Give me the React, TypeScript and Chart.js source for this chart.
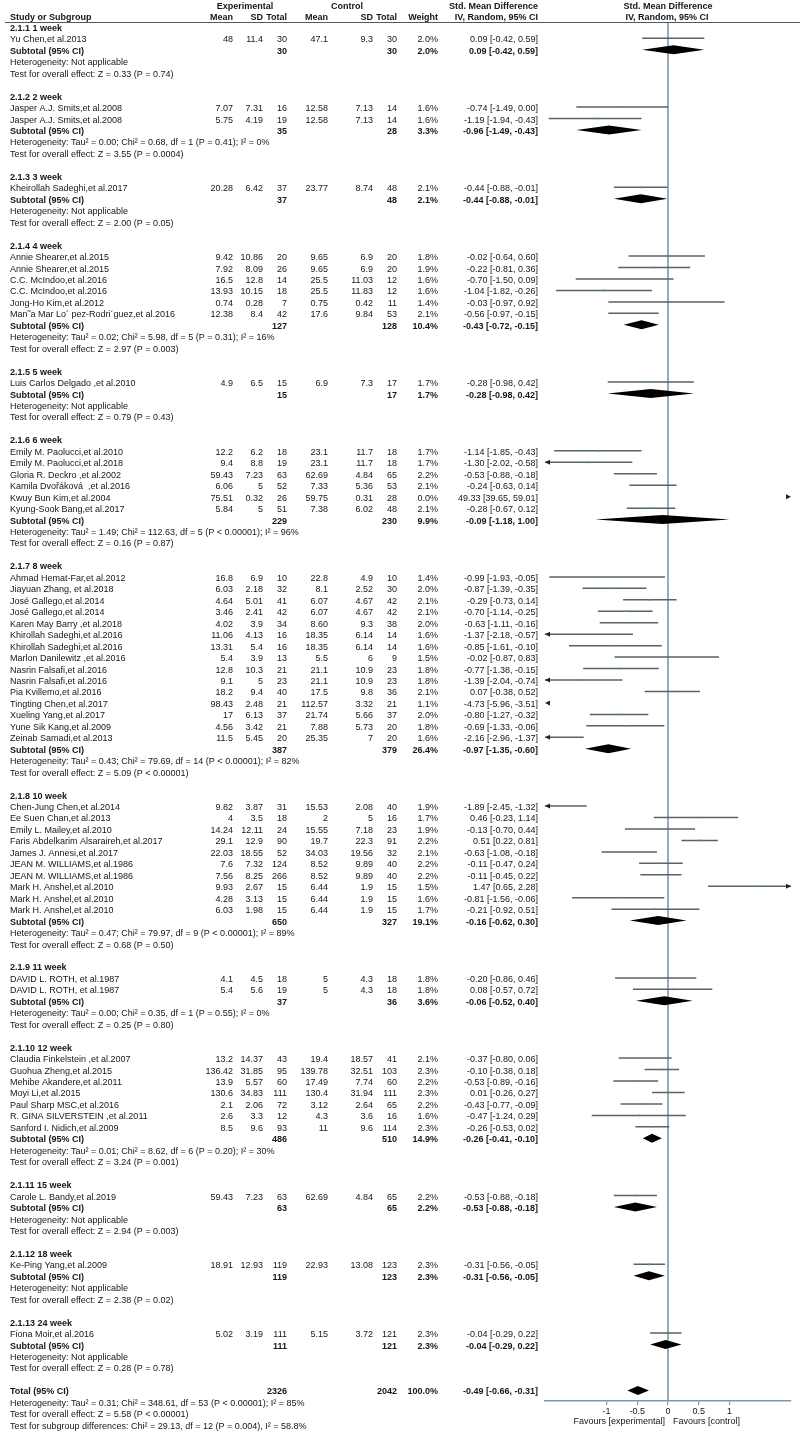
import React, { useEffect, useRef } from "react";
import { Chart, registerables } from "chart.js";

Chart.register(...registerables);

// ---------------- DATA ----------------
const groupTitles = [
  "2.1.1 1 week", "2.1.2 2 week", "2.1.3 3 week", "2.1.4 4 week", "2.1.5 5 week",
  "2.1.6 6 week", "2.1.7 8 week", "2.1.8 10 week", "2.1.9 11 week", "2.1.10 12 week",
  "2.1.11 15 week", "2.1.12 18 week", "2.1.13 24 week",
];
const groupSizes = [1, 2, 1, 6, 1, 6, 15, 10, 2, 7, 1, 1, 1];

const studyNames = [
  "Yu Chen,et al.2013",
  "Jasper A.J. Smits,et al.2008",
  "Jasper A.J. Smits,et al.2008",
  "Kheirollah Sadeghi,et al.2017",
  "Annie Shearer,et al.2015",
  "Annie Shearer,et al.2015",
  "C.C. McIndoo,et al.2016",
  "C.C. McIndoo,et al.2016",
  "Jong-Ho Kim,et al.2012",
  "Man˜a Mar Lo´ pez-Rodri´guez,et al.2016",
  "Luis Carlos Delgado ,et al.2010",
  "Emily M. Paolucci,et al.2010",
  "Emily M. Paolucci,et al.2018",
  "Gloria R. Deckro ,et al.2002",
  "Kamila Dvořáková  ,et al.2016",
  "Kwuy Bun Kim,et al.2004",
  "Kyung-Sook Bang,et al.2017",
  "Ahmad Hemat-Far,et al.2012",
  "Jiayuan Zhang, et al.2018",
  "José Gallego,et al.2014",
  "José Gallego,et al.2014",
  "Karen May Barry ,et al.2018",
  "Khirollah Sadeghi,et al.2016",
  "Khirollah Sadeghi,et al.2016",
  "Marlon Danilewitz ,et al.2016",
  "Nasrin Falsafi,et al.2016",
  "Nasrin Falsafi,et al.2016",
  "Pia Kvillemo,et al.2016",
  "Tingting Chen,et al.2017",
  "Xueling Yang,et al.2017",
  "Yune Sik Kang,et al.2009",
  "Zeinab Samadi,et al.2013",
  "Chen-Jung Chen,et al.2014",
  "Ee Suen Chan,et al.2013",
  "Emily L. Mailey,et al.2010",
  "Faris Abdelkarim Alsaraireh,et al.2017",
  "James J. Annesi,et al.2017",
  "JEAN M. WILLIAMS,et al.1986",
  "JEAN M. WILLIAMS,et al.1986",
  "Mark H. Anshel,et al.2010",
  "Mark H. Anshel,et al.2010",
  "Mark H. Anshel,et al.2010",
  "DAVID L. ROTH, et al.1987",
  "DAVID L. ROTH, et al.1987",
  "Claudia Finkelstein ,et al.2007",
  "Guohua Zheng,et al.2015",
  "Mehibe Akandere,et al.2011",
  "Moyi Li,et al.2015",
  "Paul Sharp MSC,et al.2016",
  "R. GINA SILVERSTEIN ,et al.2011",
  "Sanford I. Nidich,et al.2009",
  "Carole L. Bandy,et al.2019",
  "Ke-Ping Yang,et al.2009",
  "Fiona Moir,et al.2016",
];

const expMean = ["48","7.07","5.75","20.28","9.42","7.92","16.5","13.93","0.74","12.38","4.9","12.2","9.4","59.43","6.06","75.51","5.84","16.8","6.03","4.64","3.46","4.02","11.06","13.31","5.4","12.8","9.1","18.2","98.43","17","4.56","11.5","9.82","4","14.24","29.1","22.03","7.6","7.56","9.93","4.28","6.03","4.1","5.4","13.2","136.42","13.9","130.6","2.1","2.6","8.5","59.43","18.91","5.02"];
const expSD = ["11.4","7.31","4.19","6.42","10.86","8.09","12.8","10.15","0.28","8.4","6.5","6.2","8.8","7.23","5","0.32","5","6.9","2.18","5.01","2.41","3.9","4.13","5.4","3.9","10.3","5","9.4","2.48","6.13","3.42","5.45","3.87","3.5","12.11","12.9","18.55","7.32","8.25","2.67","3.13","1.98","4.5","5.6","14.37","31.85","5.57","34.83","2.06","3.3","9.6","7.23","12.93","3.19"];
const expTotal = [30,16,19,37,20,26,14,18,7,42,15,18,19,63,52,26,51,10,32,41,42,34,16,16,13,21,23,40,21,37,21,20,31,18,24,90,52,124,266,15,15,15,18,19,43,95,60,111,72,12,93,63,119,111];
const ctlMean = ["47.1","12.58","12.58","23.77","9.65","9.65","25.5","25.5","0.75","17.6","6.9","23.1","23.1","62.69","7.33","59.75","7.38","22.8","8.1","6.07","6.07","8.60","18.35","18.35","5.5","21.1","21.1","17.5","112.57","21.74","7.88","25.35","15.53","2","15.55","19.7","34.03","8.52","8.52","6.44","6.44","6.44","5","5","19.4","139.78","17.49","130.4","3.12","4.3","11","62.69","22.93","5.15"];
const ctlSD = ["9.3","7.13","7.13","8.74","6.9","6.9","11.03","11.83","0.42","9.84","7.3","11.7","11.7","4.84","5.36","0.31","6.02","4.9","2.52","4.67","4.67","9.3","6.14","6.14","6","10.9","10.9","9.8","3.32","5.66","5.73","7","2.08","5","7.18","22.3","19.56","9.89","9.89","1.9","1.9","1.9","4.3","4.3","18.57","32.51","7.74","31.94","2.64","3.6","9.6","4.84","13.08","3.72"];
const ctlTotal = [30,14,14,48,20,20,12,12,11,53,17,18,18,65,53,28,48,10,30,42,42,38,14,14,9,23,23,36,21,37,20,20,40,16,23,91,32,40,40,15,15,15,18,18,41,103,60,111,65,16,114,65,123,121];
const studyWeight = [2.0,1.6,1.6,2.1,1.8,1.9,1.6,1.6,1.4,2.1,1.7,1.7,1.7,2.2,2.1,0.0,2.1,1.4,2.0,2.1,2.1,2.0,1.6,1.6,1.5,1.8,1.8,2.1,1.1,2.0,1.8,1.6,1.9,1.7,1.9,2.2,2.1,2.2,2.2,1.5,1.6,1.7,1.8,1.8,2.1,2.3,2.2,2.3,2.2,1.6,2.3,2.2,2.3,2.3];
const studySmd = [0.09,-0.74,-1.19,-0.44,-0.02,-0.22,-0.70,-1.04,-0.03,-0.56,-0.28,-1.14,-1.30,-0.53,-0.24,49.33,-0.28,-0.99,-0.87,-0.29,-0.70,-0.63,-1.37,-0.85,-0.02,-0.77,-1.39,0.07,-4.73,-0.80,-0.69,-2.16,-1.89,0.46,-0.13,0.51,-0.63,-0.11,-0.11,1.47,-0.81,-0.21,-0.20,0.08,-0.37,-0.10,-0.53,0.01,-0.43,-0.47,-0.26,-0.53,-0.31,-0.04];
const studyLow = [-0.42,-1.49,-1.94,-0.88,-0.64,-0.81,-1.50,-1.82,-0.97,-0.97,-0.98,-1.85,-2.02,-0.88,-0.63,39.65,-0.67,-1.93,-1.39,-0.73,-1.14,-1.11,-2.18,-1.61,-0.87,-1.38,-2.04,-0.38,-5.96,-1.27,-1.33,-2.96,-2.45,-0.23,-0.70,0.22,-1.08,-0.47,-0.45,0.65,-1.56,-0.92,-0.86,-0.57,-0.80,-0.38,-0.89,-0.26,-0.77,-1.24,-0.53,-0.88,-0.56,-0.29];
const studyHigh = [0.59,0.00,-0.43,-0.01,0.60,0.36,0.09,-0.26,0.92,-0.15,0.42,-0.43,-0.58,-0.18,0.14,59.01,0.12,-0.05,-0.35,0.14,-0.25,-0.16,-0.57,-0.10,0.83,-0.15,-0.74,0.52,-3.51,-0.32,-0.06,-1.37,-1.32,1.14,0.44,0.81,-0.18,0.24,0.22,2.28,-0.06,0.51,0.46,0.72,0.06,0.18,-0.16,0.27,-0.09,0.29,0.02,-0.18,-0.05,0.22];

const groupExpTotal = [30,35,37,127,15,229,387,650,37,486,63,119,111];
const groupCtlTotal = [30,28,48,128,17,230,379,327,36,510,65,123,121];
const groupWeight = [2.0,3.3,2.1,10.4,1.7,9.9,26.4,19.1,3.6,14.9,2.2,2.3,2.3];
const groupSmd = [0.09,-0.96,-0.44,-0.43,-0.28,-0.09,-0.97,-0.16,-0.06,-0.26,-0.53,-0.31,-0.04];
const groupLow = [-0.42,-1.49,-0.88,-0.72,-0.98,-1.18,-1.35,-0.62,-0.52,-0.41,-0.88,-0.56,-0.29];
const groupHigh = [0.59,-0.43,-0.01,-0.15,0.42,1.00,-0.60,0.30,0.40,-0.10,-0.18,-0.05,0.22];
const groupHet = [
  "Heterogeneity: Not applicable",
  "Heterogeneity: Tau² = 0.00; Chi² = 0.68, df = 1 (P = 0.41); I² = 0%",
  "Heterogeneity: Not applicable",
  "Heterogeneity: Tau² = 0.02; Chi² = 5.98, df = 5 (P = 0.31); I² = 16%",
  "Heterogeneity: Not applicable",
  "Heterogeneity: Tau² = 1.49; Chi² = 112.63, df = 5 (P < 0.00001); I² = 96%",
  "Heterogeneity: Tau² = 0.43; Chi² = 79.69, df = 14 (P < 0.00001); I² = 82%",
  "Heterogeneity: Tau² = 0.47; Chi² = 79.97, df = 9 (P < 0.00001); I² = 89%",
  "Heterogeneity: Tau² = 0.00; Chi² = 0.35, df = 1 (P = 0.55); I² = 0%",
  "Heterogeneity: Tau² = 0.01; Chi² = 8.62, df = 6 (P = 0.20); I² = 30%",
  "Heterogeneity: Not applicable",
  "Heterogeneity: Not applicable",
  "Heterogeneity: Not applicable",
];
const groupTest = [
  "Test for overall effect: Z = 0.33 (P = 0.74)",
  "Test for overall effect: Z = 3.55 (P = 0.0004)",
  "Test for overall effect: Z = 2.00 (P = 0.05)",
  "Test for overall effect: Z = 2.97 (P = 0.003)",
  "Test for overall effect: Z = 0.79 (P = 0.43)",
  "Test for overall effect: Z = 0.16 (P = 0.87)",
  "Test for overall effect: Z = 5.09 (P < 0.00001)",
  "Test for overall effect: Z = 0.68 (P = 0.50)",
  "Test for overall effect: Z = 0.25 (P = 0.80)",
  "Test for overall effect: Z = 3.24 (P = 0.001)",
  "Test for overall effect: Z = 2.94 (P = 0.003)",
  "Test for overall effect: Z = 2.38 (P = 0.02)",
  "Test for overall effect: Z = 0.28 (P = 0.78)",
];

const totalExp = 2326;
const totalCtl = 2042;
const totalWeight = 100.0;
const totalSmd = -0.49;
const totalLow = -0.66;
const totalHigh = -0.31;
const totalLines = [
  "Heterogeneity: Tau² = 0.31; Chi² = 348.61, df = 53 (P < 0.00001); I² = 85%",
  "Test for overall effect: Z = 5.58 (P < 0.00001)",
  "Test for subgroup differences: Chi² = 29.13, df = 12 (P = 0.004), I² = 58.8%",
];

const tickValues = [-1, -0.5, 0, 0.5, 1];
const tickLabels = ["-1", "-0.5", "0", "0.5", "1"];
const axisMin = -2;
const axisMax = 2;

// ---------------- LAYOUT / STYLE ----------------
const W = 800;
const H = 1433;
const FONT = "Liberation Sans";
const FS = 9;
const TOP = 22;
const BOTTOM = 1401;
const ROW_PX = 11.458;
const ROW1_Y = 26.9;
const X_AXIS_H = 20;
const PLOT_LEFT = 545;
const PLOT_RIGHT = 791;
const TEXT_DY = 1.5;
const yMin = 1 - (ROW1_Y - TOP) / ROW_PX;
const yMax = 1 + (BOTTOM - ROW1_Y) / ROW_PX;

const TEXT_COLOR = "#161616";
const CI_COLOR = "#5c6166";
const POINT_COLOR = "#38b438";
const ZERO_COLOR = "#7d98ae";
const AXIS_COLOR = "#7d98ae";
const HEADER_LINE_COLOR = "#4f5a63";

const COL = {
  name: 10, expMean: 233, expSD: 263, expTot: 287,
  ctlMean: 328, ctlSD: 373, ctlTot: 397, weight: 438, ci: 538,
};

// ---------------- ROW BUILD ----------------
const f2 = (v: number) => v.toFixed(2);
const ciText = (m: number, lo: number, hi: number) => `${f2(m)} [${f2(lo)}, ${f2(hi)}]`;

type RowInfo = { group: number; studyIdx: number[]; headerRow: number; subRow: number; hetRow: number; testRow: number };
const groupRows: RowInfo[] = [];
const studyRow: number[] = [];
let rr = 1;
let si = 0;
groupTitles.forEach((_, g) => {
  const info: RowInfo = { group: g, studyIdx: [], headerRow: rr++, subRow: 0, hetRow: 0, testRow: 0 };
  for (let k = 0; k < groupSizes[g]; k++) {
    studyRow[si] = rr;
    info.studyIdx.push(si);
    rr++;
    si++;
  }
  info.subRow = rr++;
  info.hetRow = rr++;
  info.testRow = rr++;
  rr++;
  groupRows.push(info);
});
const totalRow = rr;

// ---------------- DATASETS ----------------
const ciSegments: any[] = [];
const pointData: any[] = [];
studyNames.forEach((_, i) => {
  const lo = studyLow[i];
  const hi = studyHigh[i];
  const y = studyRow[i];
  if (hi >= axisMin && lo <= axisMax) {
    ciSegments.push({ x: Math.max(lo, axisMin), y });
    ciSegments.push({ x: Math.min(hi, axisMax), y });
    ciSegments.push({ x: null, y: null });
  }
  if (studySmd[i] >= axisMin && studySmd[i] <= axisMax) {
    pointData.push({ x: studySmd[i], y });
  }
});

const forestPlugin = {
  id: "forestTable",
  beforeDatasetsDraw(chart: any) {
    const { ctx, chartArea, scales } = chart;
    const x0 = scales.x.getPixelForValue(0);
    ctx.save();
    ctx.strokeStyle = ZERO_COLOR;
    ctx.lineWidth = 1.6;
    ctx.beginPath();
    ctx.moveTo(x0, chartArea.top);
    ctx.lineTo(x0, chartArea.bottom);
    ctx.stroke();
    ctx.strokeStyle = HEADER_LINE_COLOR;
    ctx.lineWidth = 1;
    ctx.beginPath();
    ctx.moveTo(5, chartArea.top + 0.5);
    ctx.lineTo(W, chartArea.top + 0.5);
    ctx.stroke();
    ctx.restore();
  },
  afterDatasetsDraw(chart: any) {
    const { ctx, scales } = chart;
    const xs = scales.x;
    const ys = scales.y;
    const xL = xs.getPixelForValue(axisMin);
    const xR = xs.getPixelForValue(axisMax);
    ctx.save();
    ctx.fillStyle = "#222";
    const arrow = (x: number, y: number, dir: number) => {
      ctx.beginPath();
      ctx.moveTo(x, y);
      ctx.lineTo(x - dir * 5, y - 2.5);
      ctx.lineTo(x - dir * 5, y + 2.5);
      ctx.closePath();
      ctx.fill();
    };
    studyNames.forEach((_, i) => {
      const y = ys.getPixelForValue(studyRow[i]);
      if (studyLow[i] < axisMin) arrow(xL, y, -1);
      if (studyHigh[i] > axisMax) arrow(xR, y, 1);
    });
    const diamond = (m: number, lo: number, hi: number, row: number) => {
      const y = ys.getPixelForValue(row);
      const a = xs.getPixelForValue(Math.max(lo, axisMin));
      const b = xs.getPixelForValue(Math.min(hi, axisMax));
      const c = xs.getPixelForValue(m);
      ctx.fillStyle = "#000";
      ctx.beginPath();
      ctx.moveTo(a, y);
      ctx.lineTo(c, y - 4.5);
      ctx.lineTo(b, y);
      ctx.lineTo(c, y + 4.5);
      ctx.closePath();
      ctx.fill();
    };
    groupRows.forEach((g) => diamond(groupSmd[g.group], groupLow[g.group], groupHigh[g.group], g.subRow));
    diamond(totalSmd, totalLow, totalHigh, totalRow);
    ctx.restore();
  },
  afterDraw(chart: any) {
    const { ctx, scales, chartArea } = chart;
    const ys = scales.y;
    ctx.save();
    ctx.fillStyle = TEXT_COLOR;
    ctx.textBaseline = "middle";
    const t = (s: string, x: number, y: number, align: CanvasTextAlign, bold = false) => {
      ctx.font = `${bold ? "bold " : ""}${FS}px "${FONT}"`;
      ctx.textAlign = align;
      ctx.fillText(s, x, y);
    };
    const rowY = (r: number) => ys.getPixelForValue(r) + TEXT_DY;

    const h1 = 6.5;
    const h2 = 17.5;
    t("Experimental", 245, h1, "center", true);
    t("Control", 347, h1, "center", true);
    t("Std. Mean Difference", COL.ci, h1, "right", true);
    t("Std. Mean Difference", 668, h1, "center", true);
    t("Study or Subgroup", COL.name, h2, "left", true);
    t("Mean", COL.expMean, h2, "right", true);
    t("SD", COL.expSD, h2, "right", true);
    t("Total", COL.expTot, h2, "right", true);
    t("Mean", COL.ctlMean, h2, "right", true);
    t("SD", COL.ctlSD, h2, "right", true);
    t("Total", COL.ctlTot, h2, "right", true);
    t("Weight", COL.weight, h2, "right", true);
    t("IV, Random, 95% CI", COL.ci, h2, "right", true);
    t("IV, Random, 95% CI", 667, h2, "center", true);

    groupRows.forEach((g) => {
      const gi = g.group;
      t(groupTitles[gi], COL.name, rowY(g.headerRow), "left", true);
      g.studyIdx.forEach((i) => {
        const y = rowY(studyRow[i]);
        t(studyNames[i], COL.name, y, "left");
        t(expMean[i], COL.expMean, y, "right");
        t(expSD[i], COL.expSD, y, "right");
        t(String(expTotal[i]), COL.expTot, y, "right");
        t(ctlMean[i], COL.ctlMean, y, "right");
        t(ctlSD[i], COL.ctlSD, y, "right");
        t(String(ctlTotal[i]), COL.ctlTot, y, "right");
        t(studyWeight[i].toFixed(1) + "%", COL.weight, y, "right");
        t(ciText(studySmd[i], studyLow[i], studyHigh[i]), COL.ci, y, "right");
      });
      const ys2 = rowY(g.subRow);
      t("Subtotal (95% CI)", COL.name, ys2, "left", true);
      t(String(groupExpTotal[gi]), COL.expTot, ys2, "right", true);
      t(String(groupCtlTotal[gi]), COL.ctlTot, ys2, "right", true);
      t(groupWeight[gi].toFixed(1) + "%", COL.weight, ys2, "right", true);
      t(ciText(groupSmd[gi], groupLow[gi], groupHigh[gi]), COL.ci, ys2, "right", true);
      t(groupHet[gi], COL.name, rowY(g.hetRow), "left");
      t(groupTest[gi], COL.name, rowY(g.testRow), "left");
    });

    const yt = rowY(totalRow);
    t("Total (95% CI)", COL.name, yt, "left", true);
    t(String(totalExp), COL.expTot, yt, "right", true);
    t(String(totalCtl), COL.ctlTot, yt, "right", true);
    t(totalWeight.toFixed(1) + "%", COL.weight, yt, "right", true);
    t(ciText(totalSmd, totalLow, totalHigh), COL.ci, yt, "right", true);
    totalLines.forEach((s, k) => t(s, COL.name, rowY(totalRow + 1 + k), "left"));

    const x0 = scales.x.getPixelForValue(0);
    const yf = chartArea.bottom + 21;
    t("Favours [experimental]", x0 - 3, yf, "right");
    t("Favours [control]", x0 + 5, yf, "left");
    ctx.restore();
  },
};

export default function App() {
  const ref = useRef<HTMLCanvasElement>(null);
  useEffect(() => {
    if (!ref.current) return;
    Chart.defaults.font.family = FONT;
    const chart = new Chart(ref.current, {
      type: "scatter",
      data: {
        datasets: [
          {
            label: "points",
            data: pointData,
            pointStyle: "rect",
            pointRadius: 1.2,
            backgroundColor: POINT_COLOR,
            borderWidth: 0,
            showLine: false,
            order: 0,
          },
          {
            label: "ci",
            data: ciSegments,
            showLine: true,
            spanGaps: false,
            borderColor: CI_COLOR,
            borderWidth: 1.5,
            pointRadius: 0,
            order: 1,
          },
        ],
      },
      options: {
        responsive: false,
        animation: false,
        events: [],
        layout: {
          padding: { left: PLOT_LEFT, right: W - PLOT_RIGHT, top: TOP, bottom: H - BOTTOM - X_AXIS_H },
        },
        plugins: {
          legend: { display: false },
          tooltip: { enabled: false },
          title: { display: false },
        },
        scales: {
          x: {
            type: "linear",
            position: "bottom",
            min: axisMin,
            max: axisMax,
            afterBuildTicks: (s: any) => {
              s.ticks = tickValues.map((v) => ({ value: v }));
            },
            afterFit: (s: any) => {
              s.height = X_AXIS_H;
            },
            ticks: {
              autoSkip: false,
              maxRotation: 0,
              padding: 1,
              color: TEXT_COLOR,
              font: { family: FONT, size: FS },
              callback: (_v: any, idx: number) => tickLabels[idx],
            },
            grid: {
              drawOnChartArea: false,
              drawTicks: true,
              tickLength: 4,
              color: AXIS_COLOR,
              lineWidth: 1.2,
            },
            border: { display: true, color: AXIS_COLOR, width: 1.5 },
          },
          y: {
            type: "linear",
            display: false,
            reverse: true,
            min: yMin,
            max: yMax,
          },
        },
      },
      plugins: [forestPlugin],
    } as any);
    return () => chart.destroy();
  }, []);
  return (
    <div style={{ position: "absolute", left: 0, top: 0, width: W, height: H, background: "#fff" }}>
      <canvas ref={ref} width={W} height={H} style={{ display: "block", width: W, height: H }} />
    </div>
  );
}
